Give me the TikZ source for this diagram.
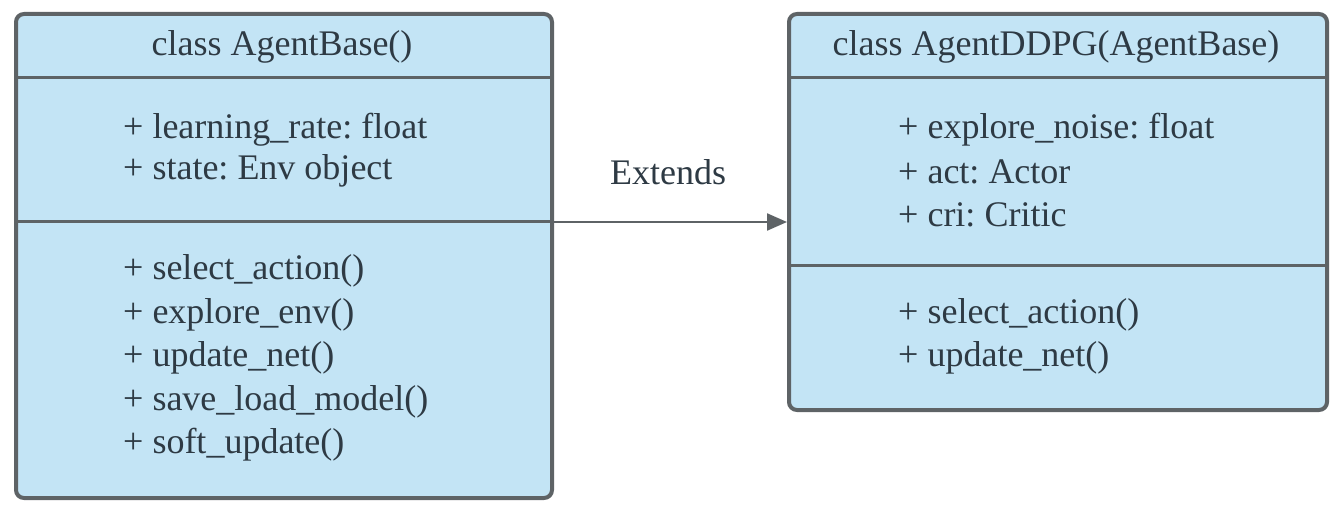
\documentclass[tikz,border=0pt]{standalone}
\usepackage{fontspec}
\setmainfont{Liberation Serif}
\usepackage{xcolor}
\usetikzlibrary{arrows.meta, positioning}

\definecolor{umlblue}{HTML}{C3E4F5}
\definecolor{umlgray}{HTML}{5E6366}
\definecolor{umltext}{HTML}{2E3A44}

\frenchspacing
\begin{document}
\begin{tikzpicture}[
  x=1pt, y=-1pt,
  umlbox/.style={draw=umlgray, line width=4pt, fill=umlblue, rounded corners=8pt, inner sep=0pt, anchor=north west},
  divider/.style={draw=umlgray, line width=3pt},
  title/.style={font=\fontsize{36}{43}\selectfont, text=umltext, inner sep=0pt},
  member/.style={anchor=west, font=\fontsize{36}{43}\selectfont, text=umltext, inner sep=0pt},
  extends/.style={-{Triangle[length=20pt, width=17pt]}, draw=umlgray, line width=2.2pt}
]
  \useasboundingbox (0,0) rectangle (1340,510);

  % AgentBase class
  \node[umlbox, minimum width=536pt, minimum height=484pt] (base) at (14,12) {};
  \draw[divider] (base.west |- 0,78) -- (base.east |- 0,78);
  \draw[divider] (base.west |- 0,222) -- (base.east |- 0,222);
  \node[title] (basetitle) at (282,47) {class AgentBase()};
  \node[member] (lr) at (123,130) {+ learning\_rate: float};
  \node[member] (st) at (123,171) {+ state: Env object};
  \node[member] (sa) at (123,271) {+ select\_action()};
  \node[member] (ee) at (123,315) {+ explore\_env()};
  \node[member] (un) at (123,358) {+ update\_net()};
  \node[member] (sl) at (123,402) {+ save\_load\_model()};
  \node[member] (su) at (123,445) {+ soft\_update()};

  % AgentDDPG class
  \node[umlbox, minimum width=538pt, minimum height=396pt] (ddpg) at (787,12) {};
  \draw[divider] (ddpg.west |- 0,78) -- (ddpg.east |- 0,78);
  \draw[divider] (ddpg.west |- 0,266) -- (ddpg.east |- 0,266);
  \node[title] (ddpgtitle) at (1056,47) {class AgentDDPG(AgentBase)};
  \node[member] (en) at (898,130) {+ explore\_noise: float};
  \node[member] (act) at (898,172) {+ act: Actor};
  \node[member] (cri) at (898,215) {+ cri: Critic};
  \node[member] (dsa) at (898,315) {+ select\_action()};
  \node[member] (dun) at (898,358) {+ update\_net()};

  % inheritance
  \draw[extends] (base.east |- 0,222) -- (ddpg.west |- 0,222);
  \node[title] (ext) at (668,172) {Extends};
\end{tikzpicture}
\end{document}
